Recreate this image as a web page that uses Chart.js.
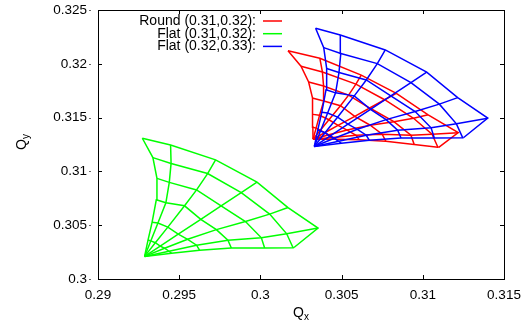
<!DOCTYPE html>
<html>
<head>
<meta charset="utf-8">
<script src="https://cdn.jsdelivr.net/npm/chart.js@4/dist/chart.umd.min.js"></script>
<style>
  html, body { margin: 0; padding: 0; background: #fff; }
  canvas { display: block; }
</style>
</head>
<body>
<canvas id="footprint" width="530" height="324"></canvas>
<script>
// tune footprints: one row per radial line (angle), apex first, then amplitude steps outwards
const seriesNames = ['Round (0.31,0.32):', 'Flat (0.31,0.32):', 'Flat (0.32,0.33):']
const seriesColors = ['#ff0000', '#00ff00', '#0000ff']

const roundQx = [
  [0.30324, 0.30323, 0.30323, 0.30319, 0.30297, 0.30250, 0.30170],
  [0.30324, 0.30343, 0.30364, 0.30390, 0.30389, 0.30382, 0.30366],
  [0.30324, 0.30369, 0.30422, 0.30493, 0.30543, 0.30588, 0.30621],
  [0.30324, 0.30396, 0.30478, 0.30581, 0.30673, 0.30765, 0.30837],
  [0.30324, 0.30422, 0.30534, 0.30676, 0.30822, 0.30943, 0.31033],
  [0.30324, 0.30448, 0.30589, 0.30750, 0.30927, 0.31057, 0.31218],
  [0.30324, 0.30464, 0.30608, 0.30772, 0.30947, 0.31093, 0.31098]
]
const roundQy = [
  [0.31299, 0.31410, 0.31530, 0.31682, 0.31831, 0.31978, 0.32121],
  [0.31299, 0.31402, 0.31521, 0.31654, 0.31793, 0.31923, 0.32052],
  [0.31299, 0.31383, 0.31480, 0.31610, 0.31709, 0.31811, 0.31895],
  [0.31299, 0.31359, 0.31427, 0.31512, 0.31589, 0.31666, 0.31726],
  [0.31299, 0.31340, 0.31384, 0.31429, 0.31462, 0.31494, 0.31526],
  [0.31299, 0.31315, 0.31336, 0.31346, 0.31337, 0.31345, 0.31360],
  [0.31299, 0.31298, 0.31295, 0.31281, 0.31250, 0.31224, 0.31224]
]

const flatQx = [
  [0.29287, 0.29308, 0.29333, 0.29359, 0.29363, 0.29338, 0.29273],
  [0.29287, 0.29325, 0.29369, 0.29418, 0.29439, 0.29450, 0.29447],
  [0.29287, 0.29353, 0.29430, 0.29533, 0.29607, 0.29675, 0.29724],
  [0.29287, 0.29383, 0.29494, 0.29633, 0.29758, 0.29882, 0.29979],
  [0.29287, 0.29410, 0.29552, 0.29729, 0.29908, 0.30057, 0.30170],
  [0.29287, 0.29437, 0.29607, 0.29800, 0.30006, 0.30162, 0.30355],
  [0.29287, 0.29453, 0.29626, 0.29821, 0.30026, 0.30201, 0.30207]
]
const flatQy = [
  [0.30210, 0.30362, 0.30527, 0.30736, 0.30935, 0.31128, 0.31308],
  [0.30210, 0.30354, 0.30521, 0.30708, 0.30898, 0.31074, 0.31246],
  [0.30210, 0.30337, 0.30482, 0.30680, 0.30828, 0.30980, 0.31107],
  [0.30210, 0.30306, 0.30417, 0.30555, 0.30679, 0.30803, 0.30900],
  [0.30210, 0.30286, 0.30369, 0.30459, 0.30534, 0.30603, 0.30664],
  [0.30210, 0.30258, 0.30314, 0.30360, 0.30383, 0.30420, 0.30473],
  [0.30210, 0.30239, 0.30267, 0.30288, 0.30288, 0.30290, 0.30293]
]

const flat2Qx = [
  [0.30332, 0.30353, 0.30378, 0.30404, 0.30408, 0.30390, 0.30340],
  [0.30332, 0.30370, 0.30414, 0.30463, 0.30484, 0.30495, 0.30492],
  [0.30332, 0.30398, 0.30475, 0.30578, 0.30652, 0.30720, 0.30769],
  [0.30332, 0.30428, 0.30539, 0.30678, 0.30803, 0.30927, 0.31024],
  [0.30332, 0.30455, 0.30597, 0.30774, 0.30953, 0.31102, 0.31215],
  [0.30332, 0.30482, 0.30652, 0.30845, 0.31051, 0.31207, 0.31400],
  [0.30332, 0.30498, 0.30671, 0.30866, 0.31071, 0.31246, 0.31252]
]
const flat2Qy = [
  [0.31232, 0.31384, 0.31549, 0.31758, 0.31957, 0.32150, 0.32330],
  [0.31232, 0.31376, 0.31543, 0.31730, 0.31920, 0.32096, 0.32268],
  [0.31232, 0.31359, 0.31504, 0.31702, 0.31850, 0.32002, 0.32129],
  [0.31232, 0.31328, 0.31439, 0.31577, 0.31701, 0.31825, 0.31922],
  [0.31232, 0.31308, 0.31391, 0.31481, 0.31556, 0.31625, 0.31686],
  [0.31232, 0.31280, 0.31336, 0.31382, 0.31405, 0.31442, 0.31495],
  [0.31232, 0.31261, 0.31289, 0.31310, 0.31310, 0.31312, 0.31315]
]

const xTicks = [0.29, 0.295, 0.3, 0.305, 0.31, 0.315]
const yTicks = [0.3, 0.305, 0.31, 0.315, 0.32, 0.325]

const FONT = '"Liberation Sans", Arial, sans-serif'

// every radial line and every amplitude ring becomes its own polyline
function meshDatasets (qx, qy, color) {
  const sets = []
  for (let a = 0; a < qx.length; a++) {
    sets.push(qx[a].map((x, k) => ({ x, y: qy[a][k] })))
  }
  for (let k = 1; k < qx[0].length; k++) {
    sets.push(qx.map((row, a) => ({ x: row[k], y: qy[a][k] })))
  }
  return sets.map(data => ({
    data,
    showLine: true,
    borderColor: color,
    borderWidth: 1.5,
    pointRadius: 0,
    fill: false
  }))
}

// blue first so it is painted on top
const datasets = [
  ...meshDatasets(flat2Qx, flat2Qy, seriesColors[2]),
  ...meshDatasets(flatQx, flatQy, seriesColors[1]),
  ...meshDatasets(roundQx, roundQy, seriesColors[0])
]

const framePlugin = {
  id: 'frame',
  afterDraw (chart) {
    const { ctx, chartArea: a, scales } = chart
    ctx.save()
    ctx.strokeStyle = '#000'
    ctx.lineWidth = 1
    ctx.strokeRect(a.left + 0.5, a.top + 0.5, a.right - a.left, a.bottom - a.top)
    ctx.beginPath()
    xTicks.forEach(v => {
      const px = Math.round(scales.x.getPixelForValue(v)) + 0.5
      ctx.moveTo(px, a.bottom); ctx.lineTo(px, a.bottom - 4)
      ctx.moveTo(px, a.top); ctx.lineTo(px, a.top + 4)
    })
    yTicks.forEach(v => {
      const py = Math.round(scales.y.getPixelForValue(v)) + 0.5
      ctx.moveTo(a.left, py); ctx.lineTo(a.left + 4, py)
      ctx.moveTo(a.right, py); ctx.lineTo(a.right - 4, py)
    })
    ctx.stroke()
    // little marks gnuplot leaves after the y labels
    ctx.fillStyle = '#666'
    yTicks.forEach(v => {
      const py = Math.round(scales.y.getPixelForValue(v))
      ctx.fillRect(a.left - 9, py, 2, 1)
    })

    // axis titles
    ctx.fillStyle = '#000'
    ctx.textBaseline = 'alphabetic'
    ctx.textAlign = 'left'
    ctx.font = '14px ' + FONT
    ctx.fillText('Q', 293, 317)
    ctx.font = '10px ' + FONT
    ctx.fillText('x', 304, 320)

    ctx.translate(26, 150)
    ctx.rotate(-Math.PI / 2)
    ctx.font = '14px ' + FONT
    ctx.fillText('Q', 0, 0)
    ctx.font = '10px ' + FONT
    ctx.fillText('y', 11, 3)
    ctx.restore()

    // key
    ctx.save()
    ctx.font = '14px ' + FONT
    ctx.textAlign = 'right'
    ctx.textBaseline = 'middle'
    seriesNames.forEach((name, i) => {
      const y = 21 + i * 12.7
      ctx.fillStyle = '#000'
      ctx.fillText(name, 256, y)
      ctx.strokeStyle = seriesColors[i]
      ctx.lineWidth = 1.5
      ctx.beginPath()
      ctx.moveTo(263, y)
      ctx.lineTo(282, y)
      ctx.stroke()
    })
    ctx.restore()
  }
}

const fmt = v => String(+Number(v).toFixed(3))

new Chart(document.getElementById('footprint').getContext('2d'), {
  type: 'scatter',
  data: { datasets },
  options: {
    responsive: false,
    animation: false,
    events: [],
    layout: { padding: { top: 10, right: 26, left: 0, bottom: 0 } },
    plugins: {
      legend: { display: false },
      tooltip: { enabled: false }
    },
    scales: {
      x: {
        type: 'linear',
        min: xTicks[0],
        max: xTicks[xTicks.length - 1],
        afterFit: s => { s.height = 45; s.paddingLeft = 0; s.paddingRight = 0 },
        afterBuildTicks: s => { s.ticks = xTicks.map(value => ({ value })) },
        grid: { display: false, drawTicks: false },
        border: { display: false },
        ticks: {
          padding: 8,
          color: '#000',
          maxRotation: 0,
          autoSkip: false,
          font: { family: FONT, size: 13.5 },
          callback: fmt
        }
      },
      y: {
        type: 'linear',
        min: yTicks[0],
        max: yTicks[yTicks.length - 1],
        afterFit: s => { s.width = 98; s.paddingTop = 0; s.paddingBottom = 0 },
        afterBuildTicks: s => { s.ticks = yTicks.map(value => ({ value })) },
        grid: { display: false, drawTicks: false },
        border: { display: false },
        ticks: {
          padding: 11,
          color: '#000',
          autoSkip: false,
          font: { family: FONT, size: 13.5 },
          callback: fmt
        }
      }
    }
  },
  plugins: [framePlugin]
})
</script>
</body>
</html>
